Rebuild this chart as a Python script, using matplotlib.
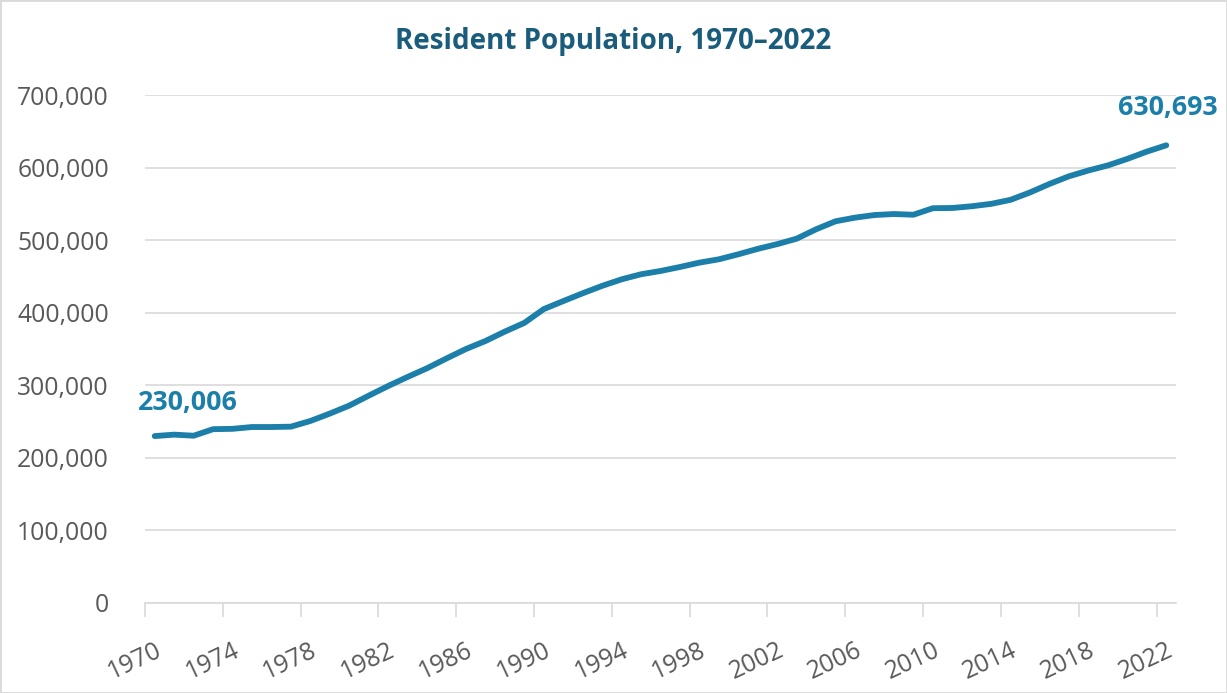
import matplotlib.pyplot as plt
import numpy as np
from matplotlib.patches import Rectangle
from matplotlib.ticker import FuncFormatter

plt.rcParams['font.family'] = ['Open Sans', 'DejaVu Sans']

# values (endpoints are labelled exactly)
years = list(range(1970, 2023))
population = [
    230006, 232000, 230500, 239500, 240000, 242500, 242500, 243000, 250800, 261000,
    272000, 285700, 299000, 311500, 323500, 337000, 350000, 361000, 374000, 386000,
    405000, 416000, 426800, 437000, 446000, 453000, 457500, 463000, 469000, 473600,
    480500, 488000, 494500, 502000, 515000, 526000, 531000, 534600, 536000, 535000,
    544000, 544300, 546700, 550000, 555600, 565800, 577500, 588000, 596000, 603000,
    612000, 622000, 630693,
]
tick_years = years[::4]
title = 'Resident Population, 1970\u20132022'

line_color = '#1b7fa9'
grid_color = '#d9d9d9'
text_color = '#595959'

fig = plt.figure(figsize=(12.27, 6.93), dpi=100)
ax = fig.add_axes([145 / 1227, 1 - 603 / 693, (1176 - 145) / 1227, (603 - 95) / 693])

# each year sits in the middle of its category slot, like an Excel category axis
x = np.array(years) + 0.5
ax.plot(x, population, color=line_color, lw=4.2, solid_capstyle='round',
        solid_joinstyle='round', zorder=3)

ax.set_xlim(years[0], years[-1] + 1)
ax.set_ylim(0, 700000)
ax.set_yticks(range(0, 700001, 100000))
ax.yaxis.set_major_formatter(FuncFormatter(lambda v, p: f'{int(v):,}'))
ax.grid(axis='y', color=grid_color, lw=1.2)
ax.set_axisbelow(True)

# labels at category centres, tick marks on the boundaries
ax.set_xticks([t + 0.5 for t in tick_years])
ax.set_xticklabels([str(t) for t in tick_years], rotation=25, ha='right',
                   rotation_mode='anchor')
ax.set_xticks(tick_years, minor=True)
ax.tick_params(axis='x', which='major', length=0, pad=25, labelsize=17.8,
               labelcolor=text_color)
ax.tick_params(axis='x', which='minor', length=10, width=1.2, color=grid_color)
ax.tick_params(axis='y', length=0, pad=26, labelsize=17.8, labelcolor=text_color)

for s in ['top', 'right', 'left']:
    ax.spines[s].set_visible(False)
ax.spines['bottom'].set_color(grid_color)
ax.spines['bottom'].set_linewidth(1.2)

ax.annotate(f'{population[0]:,}', (x[0], population[0]), xytext=(24, 24),
            textcoords='offset points', ha='center', va='center',
            fontsize=19.3, fontweight='bold', color=line_color)
ax.annotate(f'{population[-1]:,}', (x[-1], population[-1]), xytext=(1, 27),
            textcoords='offset points', ha='center', va='center',
            fontsize=19.3, fontweight='bold', color=line_color)

fig.text(0.5, 1 - 42 / 693, title, ha='center', va='center', fontsize=20,
         fontweight='bold', color='#1a5c7b')

fig.patches.append(Rectangle((0, 0), 1, 1, transform=fig.transFigure, fill=False,
                             edgecolor=grid_color, lw=2))

fig.savefig('out.png', dpi=100)
